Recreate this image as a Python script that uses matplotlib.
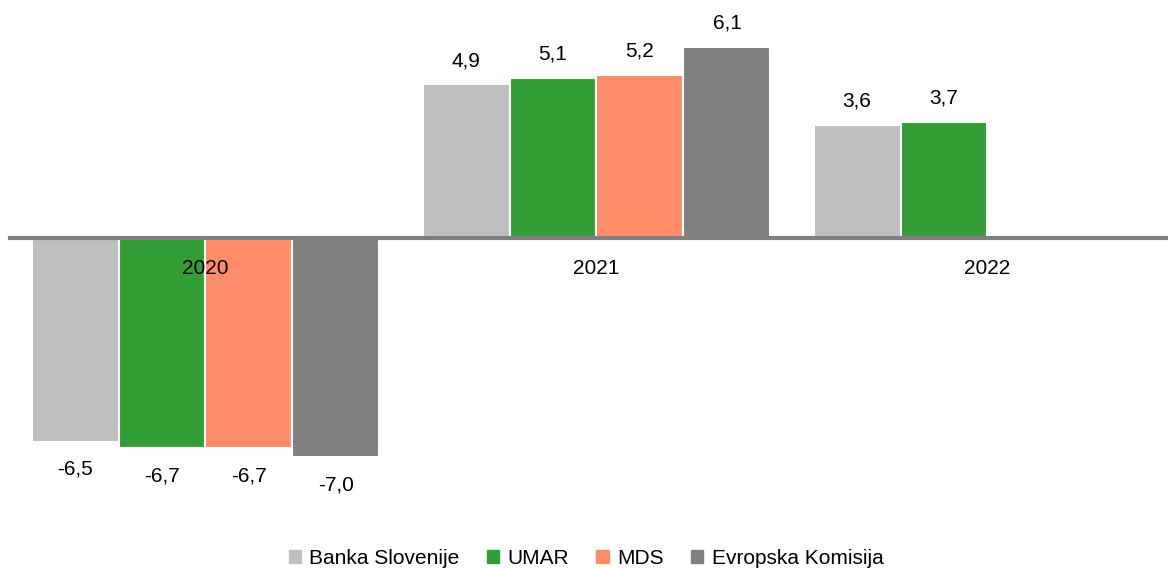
import matplotlib.pyplot as plt
from matplotlib.patches import Patch

plt.rcParams['font.family'] = ['Liberation Sans Narrow', 'Liberation Sans', 'DejaVu Sans']

years = ['2020', '2021', '2022']
series = ['Banka Slovenije', 'UMAR', 'MDS', 'Evropska Komisija']
colors = ['#BFBFBF', '#339E35', '#FF8C69', '#808080']
banka = [-6.5, 4.9, 3.6]
umar = [-6.7, 5.1, 3.7]
mds = [-6.7, 5.2, None]
ek = [-7.0, 6.1, None]
values = [banka, umar, mds, ek]

fig = plt.figure(figsize=(11.68, 5.68), dpi=100)
ax = fig.add_axes([10 / 1168, 0, 1158 / 1168, 1])

w = 0.2225
for i, (vals, c) in enumerate(zip(values, colors)):
    for j, v in enumerate(vals):
        if v is None:
            continue
        x = j + (i - 1.5) * w
        ax.bar(x, v, width=w, color=c, edgecolor='white', linewidth=1.5)
        lbl = ('%.1f' % v).replace('.', ',')
        if v >= 0:
            ax.annotate(lbl, (x, v), xytext=(0, 17), textcoords='offset points',
                        ha='center', va='center', fontsize=15)
        else:
            ax.annotate(lbl, (x, v), xytext=(0, -20), textcoords='offset points',
                        ha='center', va='center', fontsize=15)

ax.set_xlim(-0.5, -0.5 + 1158 / 391)
ax.set_ylim(-10.53, 7.59)
for s in ['left', 'right', 'top']:
    ax.spines[s].set_visible(False)
ax.spines['bottom'].set_position(('data', 0))
ax.spines['bottom'].set_color('#808080')
ax.spines['bottom'].set_linewidth(3)
ax.set_yticks([])
ax.set_xticks(range(len(years)))
ax.set_xticklabels(years, fontsize=15)
ax.tick_params(axis='x', length=0, pad=15)
ax.patch.set_alpha(0)

handles = [Patch(color=c, label=s) for s, c in zip(series, colors)]
fig.legend(handles=handles, loc='center', bbox_to_anchor=(586 / 1168, 1 - 558 / 568),
           ncol=4, frameon=False, fontsize=15, handlelength=0.6, handleheight=0.6,
           handletextpad=0.4, columnspacing=1.3)

fig.savefig('out.png', dpi=100)
